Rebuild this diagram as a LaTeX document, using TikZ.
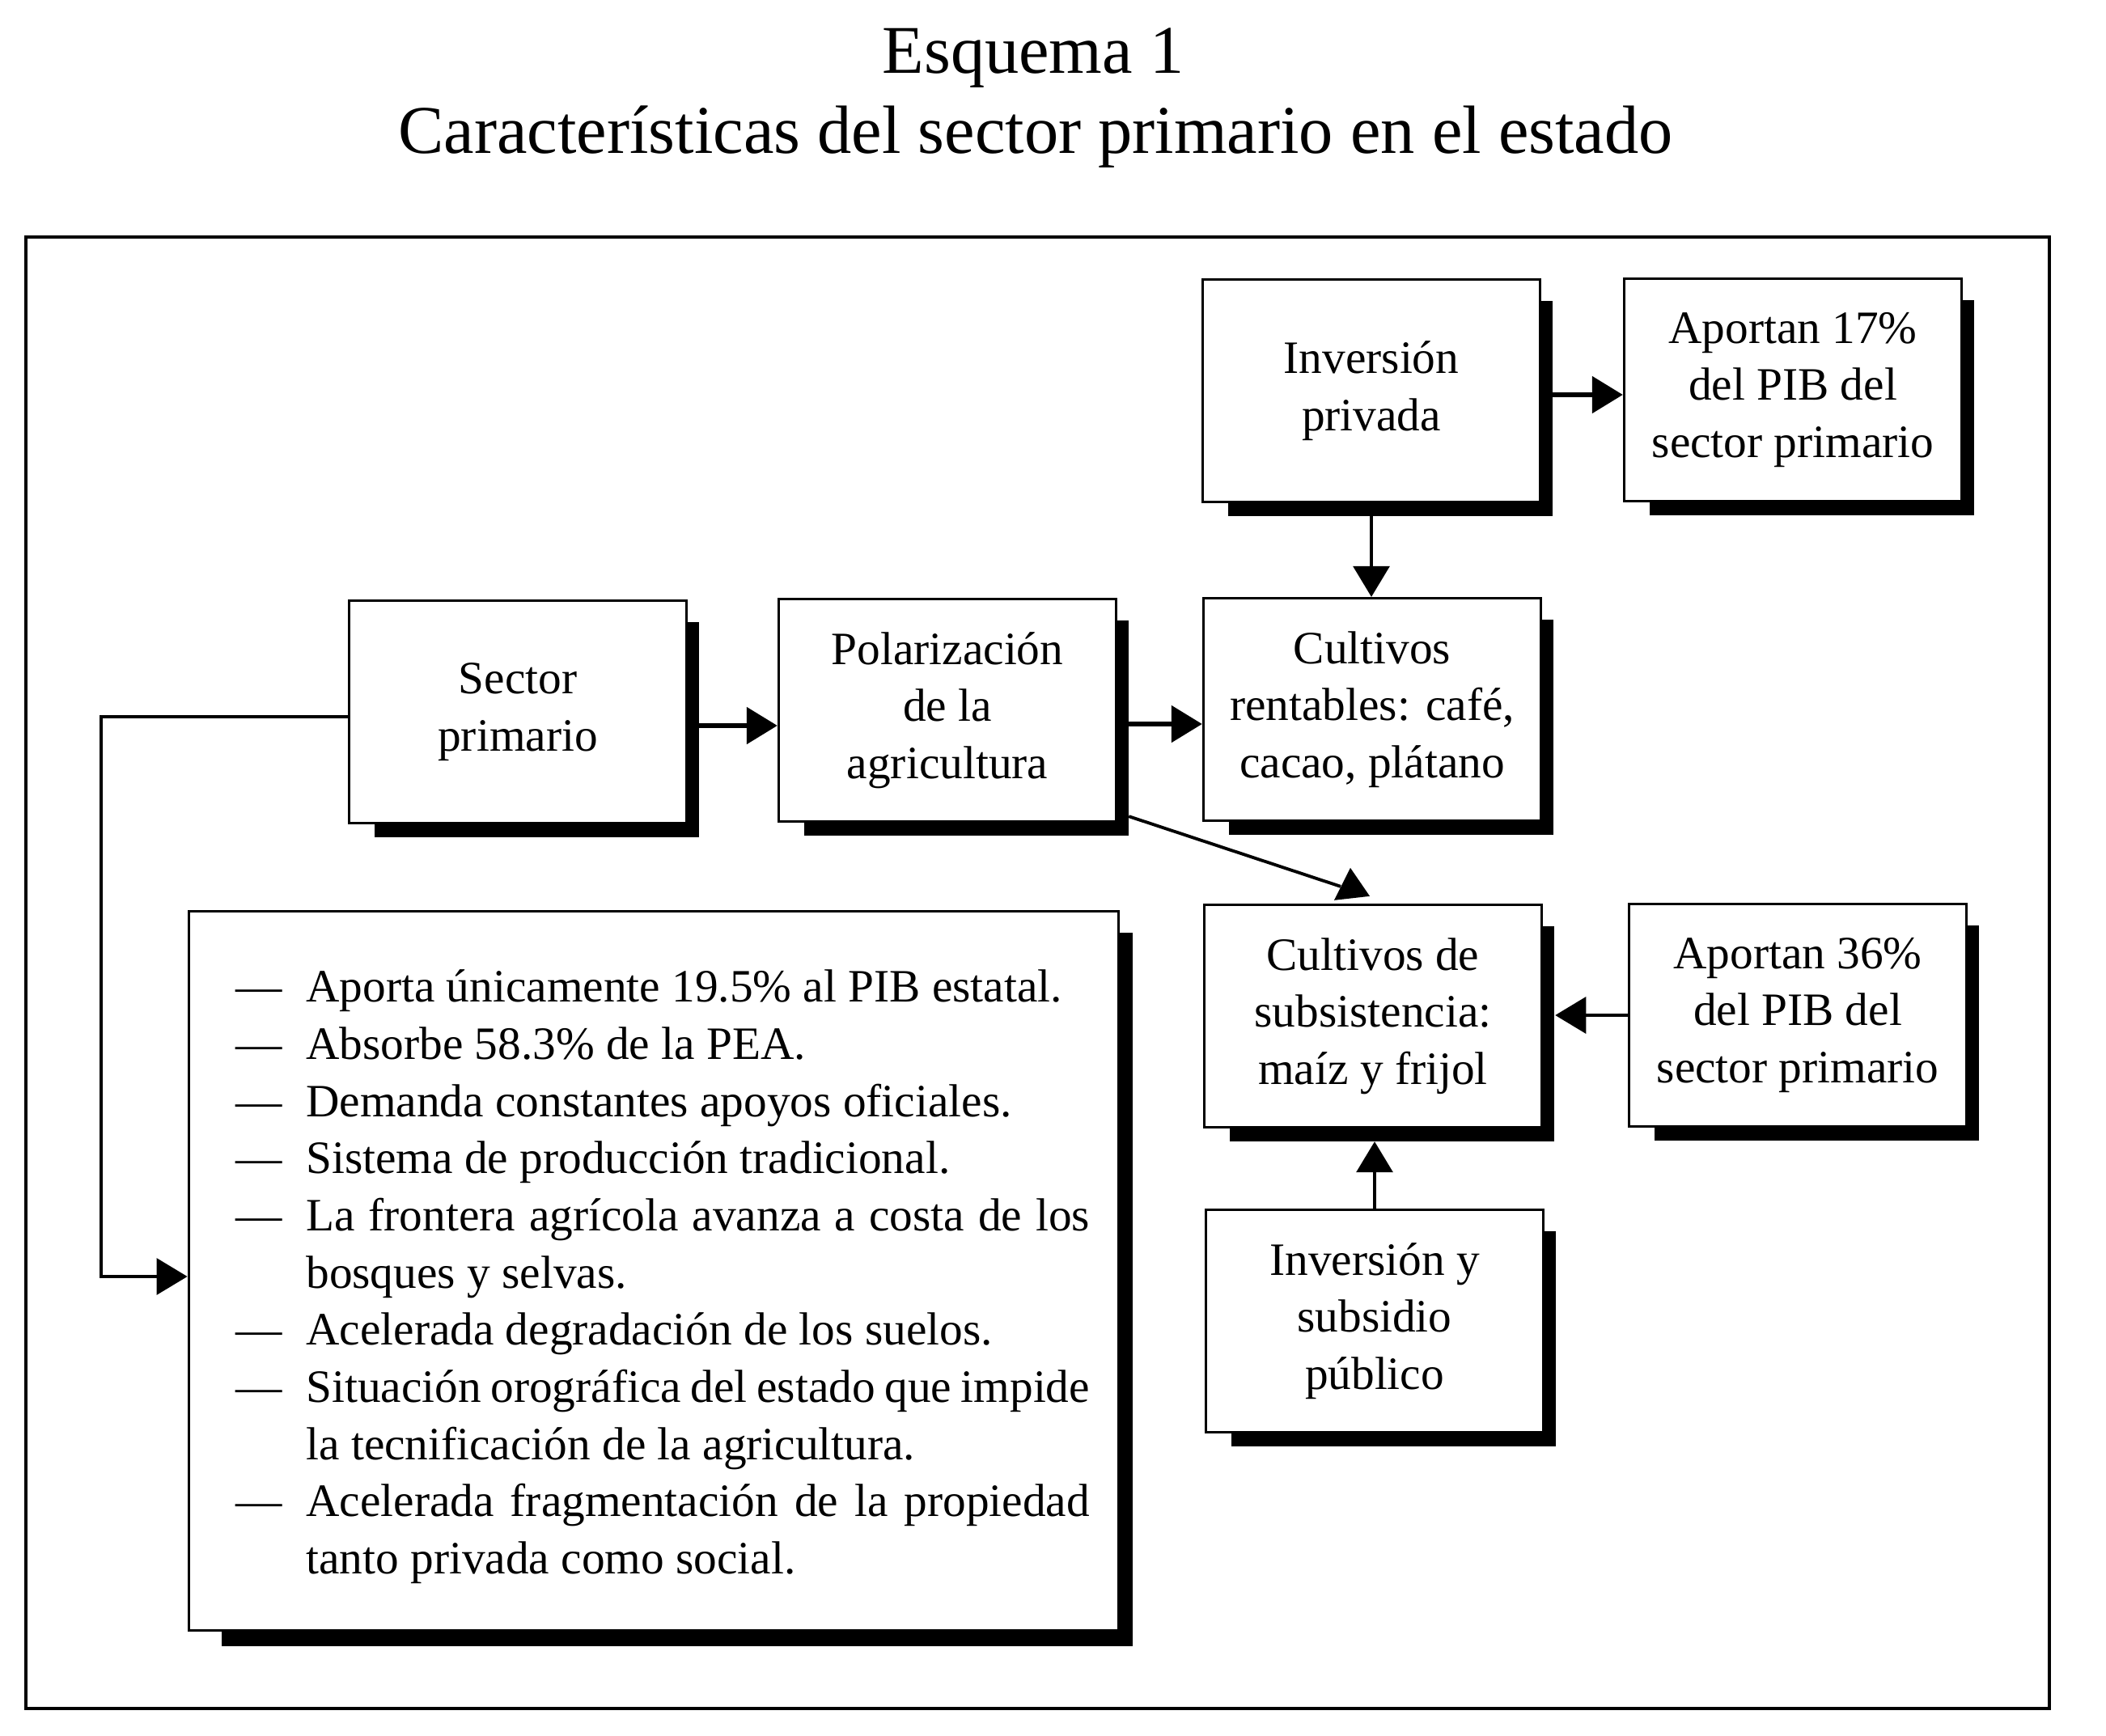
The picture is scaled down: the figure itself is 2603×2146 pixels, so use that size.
\documentclass[tikz,border=0pt]{standalone}
\usepackage{fontspec}
\setmainfont{Liberation Serif}
\usetikzlibrary{arrows.meta,calc}
\pgfdeclarelayer{bg}
\pgfsetlayers{bg,main}
\newcommand{\boxfont}{\fontsize{16.3}{20.1}\selectfont}
\newcommand{\titlefont}{\fontsize{24}{29}\selectfont}
\newcommand{\dropshadow}[1]{%
  \begin{pgfonlayer}{bg}
  \fill ([xshift=0.33cm,yshift=-0.28cm]#1.north west) rectangle ([xshift=0.14cm,yshift=-0.16cm]#1.south east);
  \end{pgfonlayer}}
\tikzset{
  box/.style={draw, line width=0.9pt, fill=white, minimum width=4.17cm,
    minimum height=2.75cm, align=center, inner sep=2pt, font=\boxfont},
  arr/.style={-{Triangle[length=0.38cm,width=0.45cm]}, line width=0.9pt},
  thickarr/.style={arr, line width=1.5pt}
}
\begin{document}
\begin{tikzpicture}[x=0.01cm,y=-0.01cm]
\useasboundingbox (0,0) rectangle (2603,2146);
% titles
\node[font=\titlefont, anchor=base, inner sep=0pt] (title1) at (1277,91) {Esquema 1};
\node[font=\titlefont, anchor=base, inner sep=0pt] (title2) at (1280,190) {Características del sector primario en el estado};
% frame
\draw[line width=1.1pt] (32,293) rectangle (2533,2112);
% boxes
\node[box] (inv) at (1695,483) {Inversión\\privada};
\node[box] (ap17) at (2216,482) {Aportan 17\%\\del PIB del\\sector primario};
\node[box] (sector) at (640,880) {Sector\\primario};
\node[box] (polar) at (1171,878) {Polarización\\de la\\agricultura};
\node[box] (rent) at (1696,877) {Cultivos\\rentables: café,\\cacao, plátano};
\node[box] (subs) at (1697,1256) {Cultivos de\\subsistencia:\\maíz y frijol};
\node[box] (ap36) at (2222,1255) {Aportan 36\%\\del PIB del\\sector primario};
\node[box] (invpub) at (1699,1633) {Inversión y\\subsidio\\público};
\node[draw, line width=0.9pt, fill=white, minimum width=11.49cm, minimum height=8.89cm] (bullets) at (808,1571) {};
\foreach \n in {inv,ap17,sector,polar,rent,subs,ap36,invpub}{\dropshadow{\n}}
\begin{pgfonlayer}{bg}
\fill ([xshift=0.42cm,yshift=-0.28cm]bullets.north west) rectangle ([xshift=0.16cm,yshift=-0.18cm]bullets.south east);
\end{pgfonlayer}
% bullet text
\node[anchor=base west, inner sep=0pt] (btext) at ([xshift=0.59cm,yshift=-1.14cm]bullets.north west)
{\parbox[t]{10.6cm}{\boxfont\setlength{\parindent}{0pt}%
\makebox[0.87cm][l]{—}Aporta únicamente 19.5\% al PIB estatal.\\
\makebox[0.87cm][l]{—}Absorbe 58.3\% de la PEA.\\
\makebox[0.87cm][l]{—}Demanda constantes apoyos oficiales.\\
\makebox[0.87cm][l]{—}Sistema de producción tradicional.\\
\makebox[0.87cm][l]{—}\makebox[9.68cm][s]{La frontera agrícola avanza a costa de los}\\
\hspace*{0.87cm}bosques y selvas.\\
\makebox[0.87cm][l]{—}Acelerada degradación de los suelos.\\
\makebox[0.87cm][l]{—}\makebox[9.68cm][s]{Situación orográfica del estado que impide}\\
\hspace*{0.87cm}la tecnificación de la agricultura.\\
\makebox[0.87cm][l]{—}\makebox[9.68cm][s]{Acelerada fragmentación de la propiedad}\\
\hspace*{0.87cm}tanto privada como social.}};
% connectors
\coordinate (loopx) at (125,0);
\draw[arr] ([yshift=-0.06cm]sector.west) -| ([yshift=-0.07cm]bullets.west -| loopx) -- ([yshift=-0.07cm]bullets.west);
\draw[thickarr] ([yshift=-0.17cm]sector.east) -- ([yshift=-0.17cm]sector.east -| polar.west);
\draw[thickarr] ([yshift=-0.17cm]polar.east) -- ([yshift=-0.17cm]polar.east -| rent.west);
\draw[thickarr] ([yshift=-0.05cm]inv.east) -- ([yshift=-0.05cm]inv.east -| ap17.west);
\draw[arr] (inv.south) -- (inv.south |- rent.north);
\coordinate (subsE) at ([xshift=0.15cm]subs.east);
\coordinate (subsS) at ([yshift=-0.16cm]subs.south);
\draw[arr] (ap36.west) -- (ap36.west -| subsE);
\draw[arr] (invpub.north) -- (invpub.north |- subsS);
% diagonal connector with its upright triangle
\coordinate (dstart) at ([xshift=0.14cm,yshift=0.08cm]polar.south east);
\coordinate (dend) at ([xshift=-0.40cm,yshift=0.21cm]subs.north);
\draw[line width=1.1pt] (dstart) -- (dend);
\fill ([xshift=-0.28cm,yshift=0.44cm]subs.north) -- ([xshift=-0.48cm,yshift=0.04cm]subs.north) -- ([xshift=-0.04cm,yshift=0.09cm]subs.north) -- cycle;
\end{tikzpicture}
\end{document}
